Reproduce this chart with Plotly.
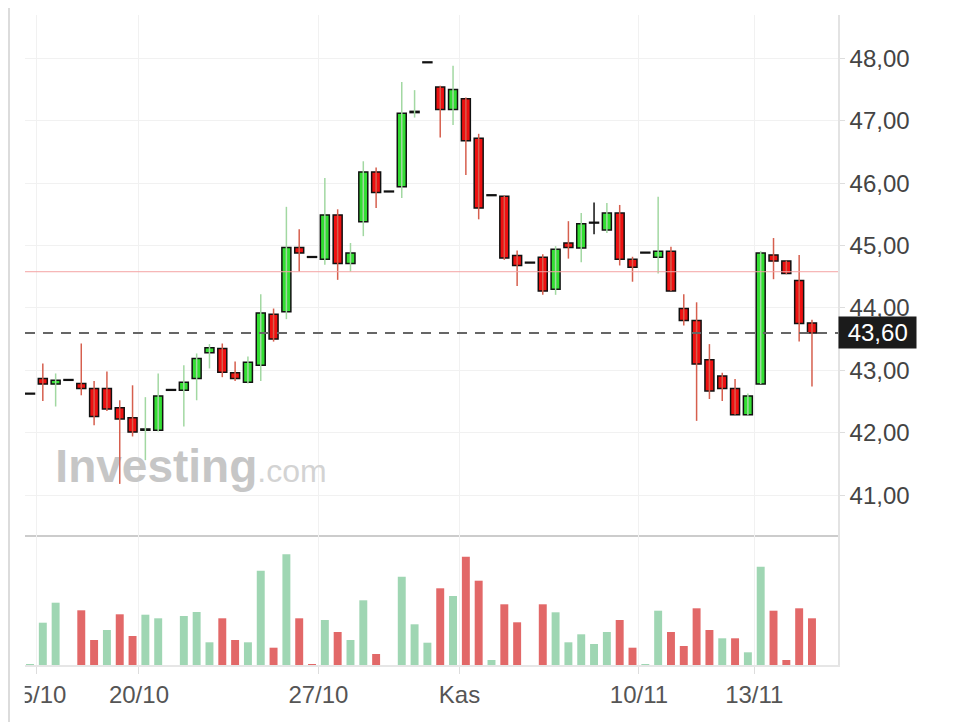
import plotly.graph_objects as go

# candle data (one bar per session slot)
opens = [42.62, 42.87, 42.78, 42.84, 42.79, 42.71, 42.71, 42.40, 42.24, 42.04,
         42.04, 42.68, 42.68, 42.87, 43.28, 43.35, 42.96, 42.81, 43.08, 43.90,
         43.94, 44.97, 44.81, 44.78, 45.49, 44.71, 45.38, 46.18, 45.86, 45.94,
         47.13, 47.93, 47.54, 47.18, 47.35, 46.72, 45.80, 45.79, 44.84, 44.72,
         44.81, 44.30, 45.04, 44.96, 45.36, 45.25, 45.52, 44.78, 44.88, 44.81,
         44.91, 43.99, 43.80, 43.17, 42.91, 42.71, 42.29, 42.78, 44.85, 44.75,
         44.44, 43.76]
highs = [42.62, 43.11, 42.95, 42.84, 43.43, 42.83, 42.98, 42.52, 42.76, 42.57,
         42.95, 42.68, 43.08, 43.27, 43.42, 43.43, 43.14, 43.22, 44.22, 43.99,
         45.62, 45.26, 44.81, 46.08, 45.58, 45.04, 46.35, 46.25, 45.86, 47.62,
         47.49, 47.93, 47.56, 47.88, 47.37, 46.79, 45.80, 45.80, 44.92, 44.72,
         44.86, 44.99, 45.39, 45.52, 45.69, 45.68, 45.65, 44.82, 44.88, 45.78,
         44.98, 44.22, 44.09, 43.42, 42.96, 42.86, 42.63, 44.91, 45.12, 44.76,
         44.85, 43.81]
lows = [42.62, 42.51, 42.42, 42.84, 42.60, 42.12, 42.35, 41.18, 41.94, 41.56,
        42.02, 42.68, 42.10, 42.52, 43.03, 42.89, 42.83, 42.79, 42.83, 43.46,
        43.82, 44.58, 44.81, 44.69, 44.45, 44.58, 45.15, 45.60, 45.86, 45.76,
        47.05, 47.93, 46.73, 46.93, 46.13, 45.42, 45.80, 44.77, 44.35, 44.72,
        44.21, 44.21, 44.79, 44.73, 45.18, 45.20, 44.68, 44.42, 44.88, 44.55,
        44.27, 43.72, 42.19, 42.54, 42.51, 42.29, 42.28, 42.78, 44.46, 44.54,
        43.46, 42.74]
closes = [42.62, 42.78, 42.84, 42.84, 42.71, 42.26, 42.38, 42.22, 42.01, 42.06,
          42.59, 42.68, 42.81, 43.19, 43.36, 42.97, 42.87, 43.13, 43.92, 43.50,
          44.97, 44.88, 44.81, 45.49, 44.71, 44.88, 46.18, 45.85, 45.86, 47.12,
          47.15, 47.93, 47.18, 47.50, 46.68, 45.60, 45.80, 44.80, 44.68, 44.72,
          44.27, 44.94, 44.97, 45.35, 45.36, 45.52, 44.78, 44.65, 44.88, 44.91,
          44.27, 43.80, 43.10, 42.67, 42.71, 42.29, 42.59, 44.88, 44.75, 44.55,
          43.75, 43.60]
volumes = [0.5, 42.3, 62.3, 0, 54.7, 25, 35, 50.7, 29, 50.3,
           46.7, 0, 49, 53, 22.7, 46.7, 25, 22.7, 94.3, 17.3,
           110.7, 46.7, 1, 45, 33, 25, 64.7, 11, 0, 88.3,
           40.7, 22.3, 76.7, 69, 108.3, 84.3, 5, 60.7, 42.7, 0,
           60.7, 52.7, 22.7, 30.7, 21, 33, 45, 17.3, 1, 54.3,
           33, 19, 56.7, 35, 26.7, 26.7, 12.7, 98.3, 54.3, 5,
           56.7, 46.7]

tick_pos = [0.5, 8.5, 22.5, 33.5, 47.5, 56.5]
tick_text = ["15/10", "20/10", "27/10", "Kas", "10/11", "13/11"]
price_ticks = [41, 42, 43, 44, 45, 46, 47, 48]
last_price = 43.60
ref_price = 44.58

idx = list(range(len(opens)))
FONT = "Arial, Liberation Sans, sans-serif"

fig = go.Figure()

# watermark behind the candles
fig.add_trace(go.Scatter(
    x=[12.56], y=[41.40], mode="text",
    text=["<b>Investing</b><span style='font-size:32px;color:#d3d3d3'>.com</span>"],
    textfont=dict(family=FONT, size=46, color="#c6c6c6"),
    hoverinfo="skip", showlegend=False
))


def wick_trace(kind, color):
    xs, ys = [], []
    for i in idx:
        d = closes[i] - opens[i]
        k = "up" if d > 0 else ("down" if d < 0 else "flat")
        if k == kind:
            xs += [i, i, None]
            ys += [lows[i], highs[i], None]
    return go.Scatter(x=xs, y=ys, mode="lines",
                      line=dict(color=color, width=1.5),
                      hoverinfo="skip", showlegend=False)


fig.add_trace(wick_trace("up", "#a2d8a2"))
fig.add_trace(wick_trace("down", "#d65f4e"))
fig.add_trace(wick_trace("flat", "#111111"))

body_base = [min(o, c) for o, c in zip(opens, closes)]
body_h = [max(abs(c - o), 0.012) for o, c in zip(opens, closes)]
body_col = ["#33de33" if c > o else ("#ee1111" if c < o else "#111111")
            for o, c in zip(opens, closes)]

fig.add_trace(go.Bar(
    x=idx, y=body_h, base=body_base, width=0.7,
    marker=dict(color=body_col, line=dict(color="#111111", width=1.5)),
    hoverinfo="skip", showlegend=False
))

vol_col = []
for i in idx:
    if i == 0 or closes[i] >= closes[i - 1]:
        vol_col.append("#9fd6b3")
    else:
        vol_col.append("#e26868")

fig.add_trace(go.Bar(
    x=idx, y=volumes, width=0.62, xaxis="x2", yaxis="y2",
    marker=dict(color=vol_col, line=dict(width=0)),
    hoverinfo="skip", showlegend=False
))

fig.add_shape(type="line", xref="x domain", x0=0, x1=1, yref="y",
              y0=ref_price, y1=ref_price,
              line=dict(color="#f4a3a3", width=1))
fig.add_shape(type="line", xref="x domain", x0=0, x1=1, yref="y",
              y0=last_price, y1=last_price,
              line=dict(color="#666666", width=2, dash="10px,8px"))

# outer frame on the left, and mask that clips the first date label
fig.add_shape(type="rect", xref="paper", yref="paper", layer="above",
              x0=-0.025, x1=-0.0003, y0=-0.088, y1=-0.004,
              fillcolor="white", line=dict(width=0))
fig.add_shape(type="line", xref="paper", yref="paper", layer="above",
              x0=-0.0197, x1=-0.0197, y0=-0.09, y1=1.03,
              line=dict(color="#dcdcdc", width=2))

fig.add_annotation(
    xref="paper", x=1, xanchor="left", yref="y", y=last_price,
    text="\u00a043,60\u00a0", showarrow=False,
    font=dict(family=FONT, size=24, color="white"),
    bgcolor="#1b1b1b", borderpad=2
)

fig.update_layout(
    width=952, height=714,
    margin=dict(l=17, r=122, t=7, b=57),
    paper_bgcolor="white", plot_bgcolor="white",
    separators=",.", showlegend=False, barmode="overlay",
    font=dict(family=FONT, size=24, color="#444444"),
    xaxis=dict(domain=[0, 1], anchor="y", range=[-0.39, 63.03],
               tickvals=tick_pos, showticklabels=False, automargin=False,
               showgrid=True, gridcolor="#f1f1f1", zeroline=False,
               showline=True, linecolor="#cccccc", linewidth=2, ticks=""),
    yaxis=dict(domain=[0.2, 1], anchor="x", side="right", automargin=False,
               range=[40.361, 48.694], tickvals=price_ticks, tickformat=".2f",
               showgrid=True, gridcolor="#f1f1f1", zeroline=False,
               showline=True, linecolor="#e3e3e3", linewidth=1.5,
               ticks="outside", ticklen=5, tickcolor="#dddddd"),
    xaxis2=dict(domain=[0, 1], anchor="y2", matches="x", automargin=False,
                tickvals=tick_pos, ticktext=tick_text,
                ticklabeloverflow="allow",
                showgrid=True, gridcolor="#f1f1f1", zeroline=False,
                showline=True, linecolor="#e6e6e6", linewidth=1.5,
                ticks="outside", ticklen=7, tickcolor="#dddddd",
                tickfont=dict(color="#555555")),
    yaxis2=dict(domain=[0, 0.2], anchor="x2", side="right", range=[0, 130],
                automargin=False,
                showticklabels=False, showgrid=False, zeroline=False,
                showline=True, linecolor="#e3e3e3", linewidth=1.5, ticks="")
)

fig.write_html("out.html")
